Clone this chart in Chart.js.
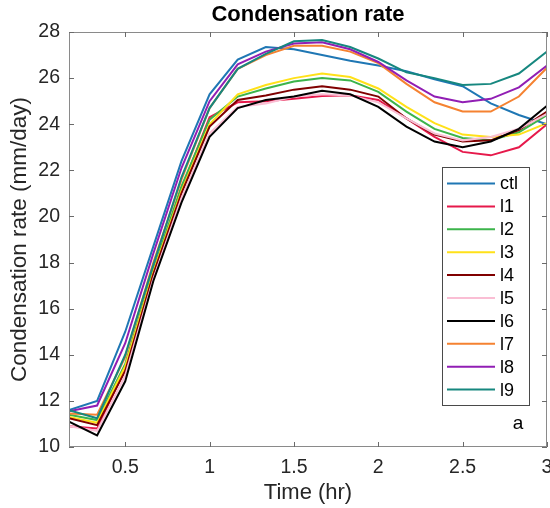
<!DOCTYPE html>
<html>
<head>
<meta charset="utf-8">
<script src="https://cdn.jsdelivr.net/npm/chart.js@4/dist/chart.umd.min.js"></script>
<style>
  html, body { margin: 0; padding: 0; background: #ffffff; }
  canvas { display: block; }
</style>
</head>
<body>
<canvas id="c" width="550" height="508"></canvas>
<script>
// ---- data ----
const time = [0.1667, 0.3333, 0.5, 0.6667, 0.8333, 1.0, 1.1667, 1.3333, 1.5, 1.6667, 1.8333, 2.0, 2.1667, 2.3333, 2.5, 2.6667, 2.8333, 3.0];
const ctl = [11.6, 12.0, 15.0, 18.7, 22.4, 25.3, 26.8, 27.35, 27.25, 27.0, 26.75, 26.55, 26.3, 25.95, 25.65, 24.9, 24.4, 24.0];
const l1  = [10.9, 10.8, 13.4, 17.6, 21.2, 24.3, 24.95, 25.0, 25.1, 25.22, 25.26, 25.05, 24.25, 23.45, 22.8, 22.65, 23.0, 24.0];
const l2  = [11.4, 11.17, 13.6, 17.7, 21.3, 24.2, 25.2, 25.55, 25.85, 26.0, 25.9, 25.4, 24.55, 23.8, 23.4, 23.3, 23.65, 24.4];
const l3  = [11.3, 11.05, 13.5, 17.6, 21.1, 24.0, 25.3, 25.7, 26.0, 26.2, 26.05, 25.55, 24.75, 24.05, 23.55, 23.45, 23.55, 24.05];
const l4  = [11.25, 10.95, 13.3, 17.5, 21.0, 23.9, 25.05, 25.25, 25.5, 25.65, 25.5, 25.2, 24.25, 23.55, 23.25, 23.3, 23.75, 24.55];
const l5  = [10.9, 10.7, 13.1, 17.3, 20.8, 23.6, 24.75, 24.9, 25.2, 25.3, 25.25, 24.95, 24.25, 23.6, 23.3, 23.45, 23.8, 24.45];
const l6  = [11.1, 10.5, 12.85, 17.2, 20.6, 23.45, 24.7, 25.05, 25.2, 25.45, 25.3, 24.75, 23.9, 23.25, 23.0, 23.25, 23.8, 24.8];
const l7  = [11.45, 11.4, 13.9, 18.0, 21.6, 24.7, 26.4, 27.0, 27.4, 27.4, 27.15, 26.65, 25.75, 24.95, 24.55, 24.55, 25.2, 26.45];
const l8  = [11.55, 11.8, 14.5, 18.4, 22.1, 25.0, 26.6, 27.15, 27.5, 27.55, 27.25, 26.7, 25.9, 25.2, 24.95, 25.1, 25.6, 26.55];
const l9  = [11.6, 11.25, 14.0, 17.9, 21.7, 24.7, 26.4, 27.05, 27.6, 27.65, 27.35, 26.85, 26.25, 26.0, 25.7, 25.75, 26.2, 27.15];

const seriesNames = ['ctl', 'l1', 'l2', 'l3', 'l4', 'l5', 'l6', 'l7', 'l8', 'l9'];
const seriesValues = [ctl, l1, l2, l3, l4, l5, l6, l7, l8, l9];
const xTicks = [0.5, 1, 1.5, 2, 2.5, 3];
const yTicks = [10, 12, 14, 16, 18, 20, 22, 24, 26, 28];
const titleText = 'Condensation rate';
const xTitle = 'Time (hr)';
const yTitle = 'Condensation rate (mm/day)';
const panelLabel = 'a';

// ---- styles ----
const colors = ['#1f77b4', '#e6194b', '#3cb44b', '#ffe119', '#800000', '#fabed4', '#000000', '#f58231', '#911eb4', '#16877f'];
const FONT = '"Liberation Sans", Arial, Helvetica, sans-serif';

const datasets = seriesNames.map((name, k) => ({
  label: name,
  data: time.map((t, i) => ({ x: t, y: seriesValues[k][i] })),
  borderColor: colors[k],
  backgroundColor: colors[k],
  borderWidth: 2,
  pointRadius: 0,
  tension: 0,
  fill: false,
  order: seriesNames.length - k
}));

const framePlugin = {
  id: 'frame',
  afterDraw(chart) {
    const { ctx, chartArea: a, scales } = chart;
    const xs = scales.x, ys = scales.y;
    ctx.save();
    // box
    ctx.strokeStyle = '#8a8a8a';
    ctx.lineWidth = 1;
    ctx.strokeRect(a.left + 0.5, a.top + 0.5, a.right - a.left - 1, a.bottom - a.top - 1);
    // inward ticks
    ctx.strokeStyle = '#6a6a6a';
    ctx.beginPath();
    const tl = 5;
    xTicks.forEach(v => {
      const px = Math.round(xs.getPixelForValue(v)) + 0.5;
      ctx.moveTo(px, a.bottom); ctx.lineTo(px, a.bottom - tl);
      ctx.moveTo(px, a.top); ctx.lineTo(px, a.top + tl);
    });
    yTicks.forEach(v => {
      const py = Math.round(ys.getPixelForValue(v)) + 0.5;
      ctx.moveTo(a.left, py); ctx.lineTo(a.left + tl, py);
      ctx.moveTo(a.right, py); ctx.lineTo(a.right - tl, py);
    });
    ctx.stroke();

    // title
    ctx.fillStyle = '#000000';
    ctx.font = 'bold 22px ' + FONT;
    ctx.textAlign = 'center';
    ctx.textBaseline = 'middle';
    ctx.fillText(titleText, (a.left + a.right) / 2, a.top - 17);

    // legend
    const boxL = a.right - 105.5, boxT = a.top + 135, boxW = 86.5, boxH = 238;
    ctx.fillStyle = '#ffffff';
    ctx.fillRect(boxL, boxT, boxW, boxH);
    ctx.strokeStyle = '#4a4a4a';
    ctx.lineWidth = 1;
    ctx.strokeRect(Math.round(boxL) + 0.5, Math.round(boxT) + 0.5, Math.round(boxW), Math.round(boxH));
    ctx.font = '18px ' + FONT;
    ctx.textAlign = 'left';
    ctx.textBaseline = 'middle';
    seriesNames.forEach((name, k) => {
      const y = boxT + 16.5 + k * 22.9;
      ctx.strokeStyle = colors[k];
      ctx.lineWidth = 2;
      ctx.beginPath();
      ctx.moveTo(boxL + 5.5, y);
      ctx.lineTo(boxL + 53.5, y);
      ctx.stroke();
      ctx.fillStyle = '#000000';
      ctx.fillText(name, boxL + 58.5, y + 1);
    });

    // panel label
    ctx.font = '19px ' + FONT;
    ctx.fillStyle = '#000000';
    ctx.textAlign = 'center';
    ctx.fillText(panelLabel, a.right - 29, a.bottom - 23);
    ctx.restore();
  }
};

new Chart(document.getElementById('c'), {
  type: 'line',
  data: { datasets },
  options: {
    responsive: false,
    animation: false,
    devicePixelRatio: 1,
    layout: { autoPadding: false, padding: { top: 32, right: 3, left: 0, bottom: 0 } },
    plugins: {
      legend: { display: false },
      title: { display: false },
      tooltip: { enabled: false }
    },
    scales: {
      x: {
        type: 'linear',
        min: time[0],
        max: time[time.length - 1],
        afterBuildTicks: s => { s.ticks = xTicks.map(v => ({ value: v })); },
        afterFit: s => { s.height = 61; s.paddingLeft = 0; s.paddingRight = 0; },
        grid: { display: false, drawTicks: false },
        border: { display: false },
        ticks: {
          padding: 9,
          maxRotation: 0,
          autoSkip: false,
          color: '#262626',
          font: { family: FONT, size: 19.5 },
          callback: v => String(v)
        },
        title: {
          display: true,
          text: xTitle,
          color: '#262626',
          font: { family: FONT, size: 22 },
          padding: { top: 0, bottom: 2 }
        }
      },
      y: {
        type: 'linear',
        min: yTicks[0],
        max: yTicks[yTicks.length - 1],
        afterBuildTicks: s => { s.ticks = yTicks.map(v => ({ value: v })); },
        afterFit: s => { s.width = 69; s.paddingTop = 0; s.paddingBottom = 0; },
        grid: { display: false, drawTicks: false },
        border: { display: false },
        ticks: {
          padding: 9,
          autoSkip: false,
          color: '#262626',
          font: { family: FONT, size: 19.5 },
          callback: v => String(v)
        },
        title: {
          display: true,
          text: yTitle,
          color: '#262626',
          font: { family: FONT, size: 22.5 },
          padding: { top: 6.5, bottom: 0 }
        }
      }
    }
  },
  plugins: [framePlugin]
});
</script>
</body>
</html>
